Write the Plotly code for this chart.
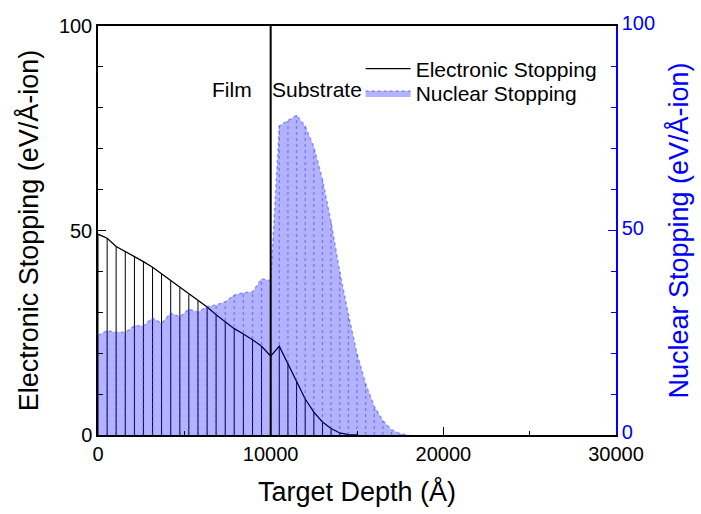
import plotly.graph_objects as go

# Depth grid (Å) and stopping powers (eV/Å-ion)
depth_elec = [0, 530, 1050, 1580, 2110, 2630, 3160, 3680, 4210, 4740,
              5260, 5790, 6320, 6840, 7370, 7890, 8420, 8950, 9470, 10000,
              10500, 11000, 11500, 12000, 12500, 13000, 13500, 14000, 14500, 15000]
elec_stop = [49.1, 48.1, 46.1, 44.9, 43.7, 42.4, 41.0, 39.4, 37.8, 36.0,
             34.4, 32.8, 31.3, 29.4, 27.7, 26.0, 24.7, 23.3, 21.7, 19.3,
             21.7, 17.5, 13.1, 8.8, 5.6, 3.2, 1.6, 0.5, 0.1, 0.0]

depth_nucl = [0, 530, 1050, 1580, 2110, 2630, 3160, 3680, 4210, 4740,
              5260, 5790, 6320, 6840, 7370, 7890, 8420, 8950, 9470, 10000,
              10500, 11000, 11500, 12000, 12500, 13000, 13500, 14000, 14500, 15000,
              15500, 16000, 16500, 17000, 17500, 18000]
nucl_stop = [24.4, 25.5, 25.1, 25.1, 26.7, 26.7, 28.6, 27.3, 29.8, 28.9,
             30.8, 30.1, 31.4, 31.8, 32.6, 34.2, 34.8, 35.0, 38.2, 37.8,
             75.6, 76.8, 78.2, 75.5, 70.5, 62.5, 52.0, 40.0, 29.5, 20.0,
             12.5, 7.0, 3.5, 1.3, 0.3, 0.0]

interface_depth = 10000
x_ticks = [0, 10000, 20000, 30000]
y_ticks = [0, 50, 100]

FONT = "Liberation Sans, Arial, sans-serif"
BLUE = "#0000ff"
DOT_BLUE = "rgba(50,50,255,0.45)"


def drop_lines(xs, ys):
    """Vertical segments from the baseline up to each data point."""
    dx, dy = [], []
    for x, y in zip(xs, ys):
        dx += [x, x, None]
        dy += [0, y, None]
    return dx, dy


fig = go.Figure()

ex, ey = drop_lines(depth_elec, elec_stop)
fig.add_trace(go.Scatter(x=ex, y=ey, mode="lines", showlegend=False,
                         line=dict(color="black", width=1), hoverinfo="skip"))
fig.add_trace(go.Scatter(x=depth_elec, y=elec_stop, mode="lines",
                         name="Electronic Stopping", legend="legend",
                         line=dict(color="black", width=1.3)))

nx, ny = drop_lines(depth_nucl, nucl_stop)
fig.add_trace(go.Scatter(x=depth_nucl, y=nucl_stop, mode="lines",
                         name="Nuclear Stopping", yaxis="y2", legend="legend2",
                         fill="tozeroy", fillcolor="rgba(0,0,255,0.3)",
                         line=dict(color=DOT_BLUE, width=1.5, dash="dot")))
fig.add_trace(go.Scatter(x=nx, y=ny, mode="lines", showlegend=False, yaxis="y2",
                         line=dict(color=DOT_BLUE, width=1.3, dash="dot"),
                         hoverinfo="skip"))

# Film / substrate interface
fig.add_shape(type="line", x0=interface_depth, x1=interface_depth, y0=0, y1=1,
              xref="x", yref="paper", layer="above",
              line=dict(color="black", width=2))
fig.add_annotation(x=interface_depth, y=84.5, xref="x", yref="y", text="Film",
                   showarrow=False, xanchor="right", xshift=-17,
                   font=dict(size=21, color="black", family=FONT))
fig.add_annotation(x=interface_depth, y=84.5, xref="x", yref="y", text="Substrate",
                   showarrow=False, xanchor="left", xshift=-1,
                   font=dict(size=21, color="black", family=FONT))

legend_common = dict(xanchor="left", yanchor="middle", bgcolor="rgba(0,0,0,0)",
                     font=dict(size=21, family=FONT), itemwidth=45,
                     borderwidth=0)

fig.update_layout(
    width=701, height=514,
    margin=dict(l=98, r=83, t=16, b=79),
    paper_bgcolor="white", plot_bgcolor="white",
    font=dict(family=FONT, size=20, color="black"),
    legend=dict(x=0.507, y=(435 - 60) / 419, **legend_common),
    legend2=dict(x=0.507, y=(435 - 85) / 419, **legend_common),
    xaxis=dict(range=[0, 30000], tickvals=x_ticks,
               ticktext=[str(v) for v in x_ticks],
               showline=True, linecolor="black", linewidth=1.5, mirror=True,
               ticks="inside", ticklen=8, tickcolor="black",
               minor=dict(ticks="inside", ticklen=4, dtick=5000, tickcolor="black"),
               showgrid=False, zeroline=False,
               tickfont=dict(size=20),
               title=dict(text="Target Depth (Å)", font=dict(size=27), standoff=18)),
    yaxis=dict(range=[0, 100], tickvals=y_ticks,
               showline=True, linecolor="black", linewidth=1.5,
               ticks="inside", ticklen=8, tickcolor="black",
               minor=dict(ticks="inside", ticklen=5, dtick=10, tickcolor="black"),
               showgrid=False, zeroline=False,
               tickfont=dict(size=20),
               title=dict(text="Electronic Stopping (eV/Å-ion)", font=dict(size=27),
                          standoff=12)),
    yaxis2=dict(range=[0, 100], tickvals=y_ticks, overlaying="y", side="right",
                showline=True, linecolor=BLUE, linewidth=1.5,
                ticks="inside", ticklen=8, tickcolor=BLUE,
                minor=dict(ticks="inside", ticklen=5, dtick=10, tickcolor=BLUE),
                showgrid=False, zeroline=False, ticklabelshift=-3,
                tickfont=dict(size=20, color=BLUE),
                title=dict(text="Nuclear Stopping (eV/Å-ion)",
                           font=dict(size=27, color=BLUE))),
)

fig.write_html("out.html")
